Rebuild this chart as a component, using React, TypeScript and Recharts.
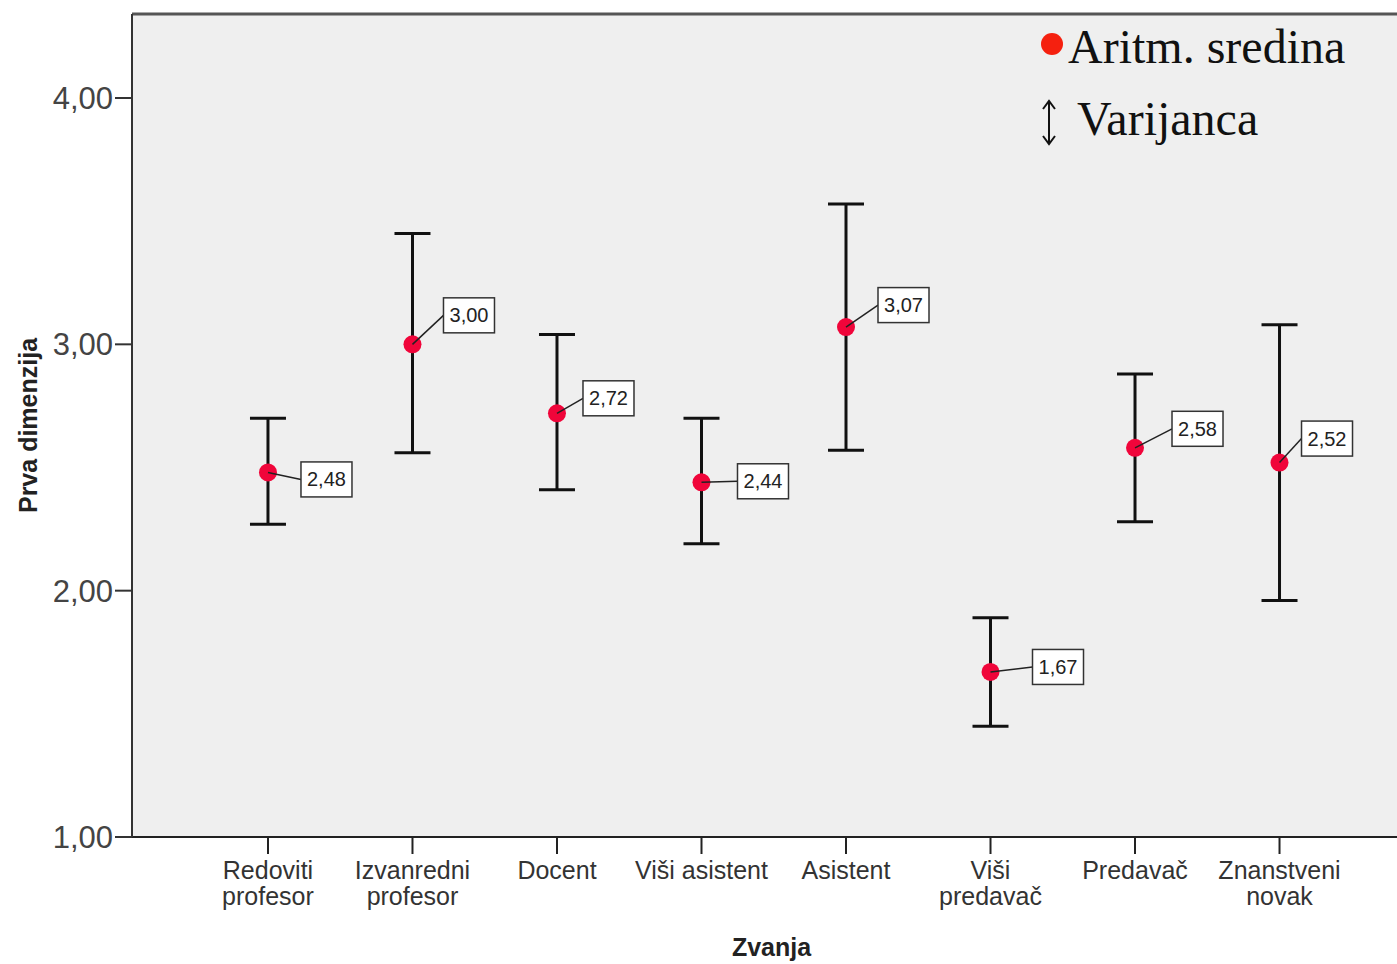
import React from "react";
import {
  ScatterChart,
  Scatter,
  XAxis,
  YAxis,
  ErrorBar,
  CartesianGrid,
  ReferenceLine,
  Label,
} from "recharts";

const categories = [
  "Redoviti\nprofesor",
  "Izvanredni\nprofesor",
  "Docent",
  "Viši asistent",
  "Asistent",
  "Viši\npredavač",
  "Predavač",
  "Znanstveni\nnovak",
];
const means = [2.48, 3.0, 2.72, 2.44, 3.07, 1.67, 2.58, 2.52];
const lows = [2.27, 2.56, 2.41, 2.19, 2.57, 1.45, 2.28, 1.96];
const highs = [2.7, 3.45, 3.04, 2.7, 3.57, 1.89, 2.88, 3.08];
const yTicks = [1, 2, 3, 4];

const data = categories.map((name, i) => ({
  idx: i,
  name,
  mean: means[i],
  err: [means[i] - lows[i], highs[i] - means[i]],
}));

// where each value box sits relative to its point (dx to box left, dy to box centre)
const boxShift = [
  [33, 7],
  [31, -29],
  [26, -15],
  [36, -1],
  [32, -22],
  [42, -5],
  [37, -19],
  [22, -24],
];

const fmt = (v: number) => v.toFixed(2).replace(".", ",");

const Dot = (props: any) => {
  const { cx, cy } = props;
  return <circle cx={cx} cy={cy} r={9} fill="#f0053a" />;
};

const ValueBox = (props: any) => {
  const { cx, cy, payload } = props;
  const [dx, dy] = boxShift[payload.idx];
  const w = 51;
  const h = 35;
  const bx = cx + dx;
  const by = cy + dy;
  return (
    <g>
      <line x1={cx} y1={cy} x2={bx} y2={by} stroke="#222" strokeWidth={1.5} />
      <rect x={bx} y={by - h / 2} width={w} height={h} fill="#fff" stroke="#333" strokeWidth={1.5} />
      <text
        x={bx + w / 2}
        y={by + 7}
        textAnchor="middle"
        fontSize={20}
        fontFamily="Liberation Sans, Arial, sans-serif"
        fill="#222"
      >
        {fmt(payload.mean)}
      </text>
    </g>
  );
};

const XTick = (props: any) => {
  const { x, y, payload } = props;
  const lines = categories[payload.value].split("\n");
  return (
    <text
      x={x}
      y={y - 3}
      textAnchor="middle"
      fontSize={25}
      fontFamily="Liberation Sans, Arial, sans-serif"
      fill="#333"
    >
      {lines.map((l, i) => (
        <tspan key={i} x={x} dy={26}>
          {l}
        </tspan>
      ))}
    </text>
  );
};

const serif = "Liberation Serif, Times New Roman, serif";

const LegendBox = () => (
  <svg width={400} height={160} style={{ position: "absolute", left: 1000, top: 0 }}>
    <circle cx={52} cy={44} r={11} fill="#f5200f" />
    <text x={68} y={63} fontSize={48} fontFamily={serif} fill="#111">
      Aritm. sredina
    </text>
    <line x1={49} y1={101} x2={49} y2={144} stroke="#111" strokeWidth={2} />
    <polyline points="43,109 49,101 55,109" fill="none" stroke="#111" strokeWidth={2} />
    <polyline points="43,136 49,144 55,136" fill="none" stroke="#111" strokeWidth={2} />
    <text x={77} y={135} fontSize={48} fontFamily={serif} fill="#111">
      Varijanca
    </text>
  </svg>
);

export default function App() {
  return (
    <div style={{ position: "absolute", left: 0, top: 0, width: 1397, height: 964 }}>
      <ScatterChart width={1397} height={964} margin={{ top: 14, right: 0, bottom: 0, left: 0 }}>
        <CartesianGrid fill="#efefef" horizontal={false} vertical={false} />
        <XAxis
          type="number"
          dataKey="idx"
          domain={[-0.941, 7.813]}
          ticks={[0, 1, 2, 3, 4, 5, 6, 7]}
          tick={<XTick />}
          tickSize={17}
          height={127}
          axisLine={{ stroke: "#222", strokeWidth: 2 }}
          tickLine={{ stroke: "#222", strokeWidth: 2 }}
          interval={0}
        >
          <Label
            value="Zvanja"
            position="insideBottom"
            offset={8}
            dx={7}
            style={{ fontSize: 25, fontWeight: "bold", fill: "#222", fontFamily: "Liberation Sans, Arial, sans-serif" }}
          />
        </XAxis>
        <YAxis
          type="number"
          dataKey="mean"
          domain={[1, 4.341]}
          ticks={yTicks}
          tickFormatter={fmt}
          width={132}
          tickSize={17}
          axisLine={{ stroke: "#333", strokeWidth: 2 }}
          tickLine={{ stroke: "#333", strokeWidth: 2 }}
          tick={{ fontSize: 31, fill: "#444", fontFamily: "Liberation Sans, Arial, sans-serif" }}
        >
          <Label
            value="Prva dimenzija"
            angle={-90}
            position="insideLeft"
            offset={28}
            style={{ textAnchor: "middle", fontSize: 25, fontWeight: "bold", fill: "#222", fontFamily: "Liberation Sans, Arial, sans-serif" }}
          />
        </YAxis>
        <ReferenceLine y={4.341} stroke="#555" strokeWidth={3} />
        <Scatter data={data} shape={<Dot />} isAnimationActive={false} legendType="none">
          <ErrorBar dataKey="err" direction="y" width={18} stroke="#111" strokeWidth={3} />
        </Scatter>
        <Scatter data={data} shape={<ValueBox />} isAnimationActive={false} legendType="none" />
      </ScatterChart>
      <LegendBox />
    </div>
  );
}
